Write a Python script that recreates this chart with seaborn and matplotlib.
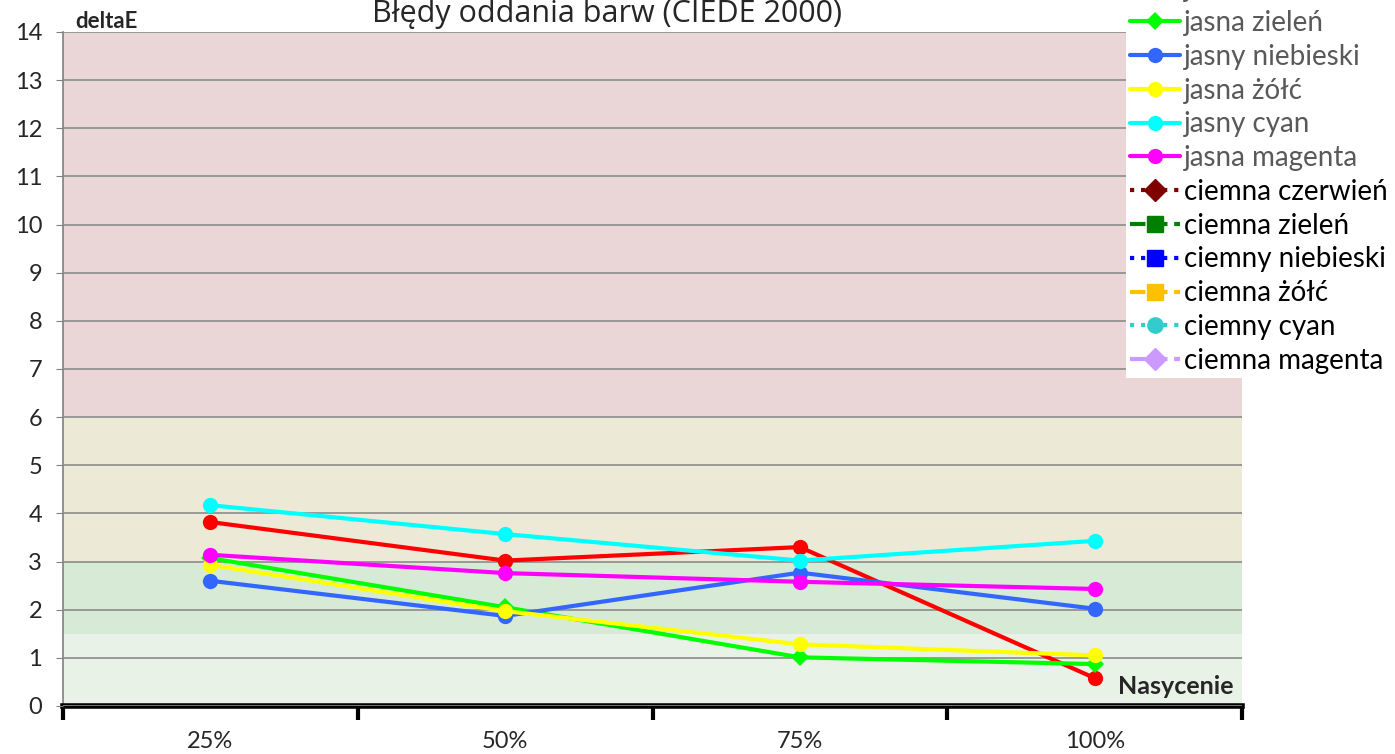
import matplotlib
matplotlib.use("Agg")
import matplotlib.pyplot as plt
import seaborn as sns
import numpy as np
import pandas as pd

# data
saturation = ['25%', '50%', '75%', '100%']
light_names = ['jasna czerwień', 'jasna zieleń', 'jasny niebieski', 'jasna żółć',
               'jasny cyan', 'jasna magenta']
light_red = [3.82, 3.02, 3.30, 0.58]
light_green = [3.07, 2.05, 1.01, 0.87]
light_blue = [2.60, 1.87, 2.77, 2.02]
light_yellow = [2.93, 1.97, 1.28, 1.05]
light_cyan = [4.17, 3.57, 3.02, 3.43]
light_magenta = [3.14, 2.76, 2.58, 2.43]
light_values = [light_red, light_green, light_blue, light_yellow, light_cyan, light_magenta]
light_colors = ['#FF0000', '#00FF00', '#3366FF', '#FFFF00', '#00FFFF', '#FF00FF']
light_markers = ['o', 'D', 'o', 'o', 'o', 'o']

# dark series appear only in the legend (no values shown)
dark_names = ['ciemna czerwień', 'ciemna zieleń', 'ciemny niebieski', 'ciemna żółć',
              'ciemny cyan', 'ciemna magenta']
dark_values = [[None] * 4 for _ in dark_names]
dark_colors = ['#7F0000', '#008000', '#0000FF', '#FFC000', '#33CCCC', '#CC99FF']
dark_markers = ['D', 's', 's', 's', 'o', 'D']
dark_styles = [':', '--', ':', '--', ':', '--']

bands = [(0, 1.5, '#E9F2E6'), (1.5, 3, '#D6EAD5'), (3, 6, '#ECE9D7'), (6, 14, '#EAD5D7')]

sns.set_style('white')
plt.rcParams['font.family'] = ['Lato', 'DejaVu Sans']

fig = plt.figure(figsize=(13.95, 7.54), dpi=100)
ax = fig.add_axes([0.0452, 0.0637, 0.8451, 0.8939])

for lo, hi, c in bands:
    ax.axhspan(lo, hi, color=c, zorder=0, lw=0)

for name, vals, col, mk in zip(light_names, light_values, light_colors, light_markers):
    df = pd.DataFrame({'x': range(len(saturation)), 'y': vals})
    sns.lineplot(data=df, x='x', y='y', ax=ax, color=col, marker=mk, lw=3,
                 markersize=11 if mk == 'o' else 9, markeredgewidth=0, label=name,
                 zorder=3)

for name, vals, col, mk, ls in zip(dark_names, dark_values, dark_colors, dark_markers, dark_styles):
    y = np.array([np.nan if v is None else v for v in vals], dtype=float)
    ax.plot(range(len(saturation)), y, color=col, marker=mk, ls=ls, lw=3,
            markersize=11, label=name)

ax.set_xlim(-0.5, 3.5)
ax.set_ylim(0, 14)
ax.set_yticks(range(0, 15))
ax.yaxis.grid(True, color='#8C8C8C', lw=1.2)
ax.set_axisbelow(False)
for gl in ax.get_ygridlines():
    gl.set_zorder(1)
ax.tick_params(axis='y', labelsize=17, length=5, color='#808080', left=True, pad=10)

ax.set_xticks([-0.5, 0.5, 1.5, 2.5, 3.5])
ax.set_xticklabels([])
ax.set_xticks(range(len(saturation)), minor=True)
ax.set_xticklabels(saturation, minor=True, fontsize=17)
ax.tick_params(axis='x', which='major', length=10, width=3, color='black', bottom=True)
ax.tick_params(axis='x', which='minor', length=0, pad=18)

for s in ['top', 'right']:
    ax.spines[s].set_visible(False)
ax.spines['left'].set_color('#808080')
ax.spines['left'].set_linewidth(1.2)
ax.spines['bottom'].set_color('black')
ax.spines['bottom'].set_linewidth(4)
ax.set_xlabel('')
ax.set_ylabel('')

ax.text(0.01, 1.0, 'deltaE', transform=ax.transAxes, fontsize=16, fontweight='bold',
        ha='left', va='bottom')
ax.text(0.993, 0.012, 'Nasycenie', transform=ax.transAxes, fontsize=18, fontweight='bold',
        ha='right', va='bottom')
fig.text(0.435, 0.962, 'Błędy oddania barw (CIEDE 2000)', fontsize=22, ha='center',
         va='bottom', family=['Open Sans', 'DejaVu Sans'])

if ax.get_legend():
    ax.get_legend().remove()
handles, labels = ax.get_legend_handles_labels()
leg = fig.legend(handles, labels, loc='upper left', bbox_to_anchor=(0.8072, 1.037),
                 fontsize=20, frameon=True, facecolor='white', edgecolor='none',
                 framealpha=1, fancybox=False, handlelength=1.8, handletextpad=0.15,
                 labelspacing=0.28, borderpad=0.15, borderaxespad=0)
for i, t in enumerate(leg.get_texts()):
    t.set_color('#595959' if i < len(light_names) else 'black')

fig.savefig('out.png', dpi=100)
